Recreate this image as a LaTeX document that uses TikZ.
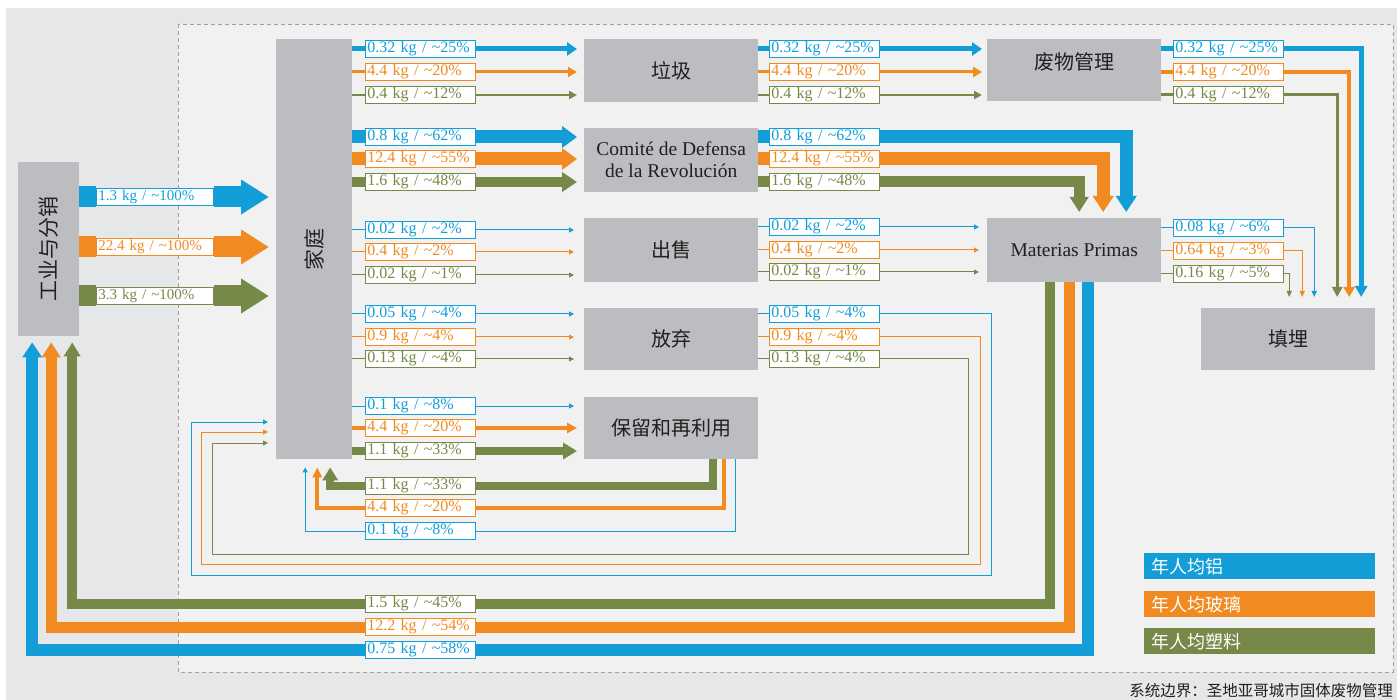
\documentclass[tikz,border=0pt]{standalone}
\usepackage{fontspec}
\setmainfont{Liberation Serif}
\newfontfamily\cjk{Noto Sans CJK SC}
\usetikzlibrary{arrows.meta}
\definecolor{cblue}{RGB}{19,158,216}
\definecolor{corange}{RGB}{241,138,33}
\definecolor{cgreen}{RGB}{118,137,72}
\definecolor{boxgray}{RGB}{188,189,192}
\definecolor{bgout}{RGB}{230,231,232}
\definecolor{bgin}{RGB}{241,241,241}
\definecolor{dashgray}{RGB}{160,160,160}
\definecolor{txt}{RGB}{35,31,32}
\newcommand{\kgl}[2]{\mbox{#1 kg / \textasciitilde#2\%}}
\begin{document}
\begin{tikzpicture}[x=1pt,y=-1pt,
  box/.style={fill=boxgray, inner sep=0pt, anchor=north west, text=txt},
  cjkttl/.style={text=txt, font=\cjk\fontsize{20}{22}\selectfont},
  latttl/.style={text=txt, font=\fontsize{19.5}{22}\selectfont, align=center},
  lbl/.style={draw=#1, fill=white, text=#1, line width=0.8pt, minimum height=17pt,
    text width=106pt, inner xsep=2pt, inner ysep=0pt, align=left,
    font=\fontsize{16}{16}\selectfont, anchor=west},
  lblb/.style={lbl=#1, text width=113pt, font=\fontsize{15}{15}\selectfont},
  fl/.style={draw=#1},
  ar/.style 2 args={-{Triangle[width=#1,length=#2]}},
  legbox/.style={fill=#1, minimum width=231pt, minimum height=26pt, anchor=north west,
    inner ysep=0pt, inner xsep=7pt, text width=217pt, align=left, text=white,
    font=\cjk\fontsize{18}{18}\selectfont}
]
\useasboundingbox (0,0) rectangle (1397,700);
\fill[white] (0,0) rectangle (1397,700);
\fill[bgout] (6,8) rectangle (1397,700);
\filldraw[fill=bgin, draw=dashgray, line width=0.8pt, dash pattern=on 4pt off 3pt] (178,24) rectangle (1393,672);

% ---------- boxes ----------
\node[box, minimum width=61pt, minimum height=174pt] (ind) at (18,162) {};
\node[cjkttl, rotate=90, font=\cjk\fontsize{21}{21}\selectfont] (indt) at (ind.center) {工业与分销};
\node[box, minimum width=76pt, minimum height=420pt] (home) at (276,39) {};
\node[cjkttl, rotate=90, font=\cjk\fontsize{21}{21}\selectfont] (homet) at (home.center) {家庭};
\node[box, cjkttl, minimum width=174pt, minimum height=63pt] (garb) at (584,39) {垃圾};
\node[box, latttl, minimum width=174pt, minimum height=64pt] (cdr) at (584,128) {Comité de Defensa\\de la Revolución};
\node[box, cjkttl, minimum width=174pt, minimum height=64pt] (sale) at (584,218) {出售};
\node[box, cjkttl, minimum width=174pt, minimum height=62pt] (aband) at (584,308) {放弃};
\node[box, cjkttl, minimum width=174pt, minimum height=62pt] (keep) at (584,397) {保留和再利用};
\node[box, minimum width=174pt, minimum height=62pt] (waste) at (987,39) {};
\node[cjkttl] (wastet) at ([yshift=8pt]waste.center) {废物管理};
\node[box, latttl, minimum width=174pt, minimum height=64pt] (mp) at (987,218) {Materias Primas};
\node[box, cjkttl, minimum width=174pt, minimum height=62pt] (land) at (1201,308) {填埋};

% ---------- industry -> household ----------
\node[lblb=cblue] (i1) at (96,197) {\kgl{1.3}{100}};
\node[lblb=corange] (i2) at (96,247) {\kgl{22.4}{100}};
\node[lblb=cgreen] (i3) at (96,296) {\kgl{3.3}{100}};
\draw[fl=cblue, line width=21pt] (ind.east |- i1) -- (i1.west);
\draw[fl=cblue, line width=21pt, ar={33pt}{28pt}, shorten >=7pt] (i1.east) -- (home.west |- i1);
\draw[fl=corange, line width=21pt] (ind.east |- i2) -- (i2.west);
\draw[fl=corange, line width=21pt, ar={33pt}{28pt}, shorten >=7pt] (i2.east) -- (home.west |- i2);
\draw[fl=cgreen, line width=21pt] (ind.east |- i3) -- (i3.west);
\draw[fl=cgreen, line width=21pt, ar={33pt}{28pt}, shorten >=7pt] (i3.east) -- (home.west |- i3);

% ---------- household -> garbage ----------
\node[lbl=cblue] (ga1) at (365,49) {\kgl{0.32}{25}};
\node[lbl=corange] (ga2) at (365,72) {\kgl{4.4}{20}};
\node[lbl=cgreen] (ga3) at (365,95) {\kgl{0.4}{12}};
\draw[fl=cblue, line width=5pt] (home.east |- ga1) -- (ga1.west);
\draw[fl=cblue, line width=5pt, ar={13pt}{10pt}, shorten >=7pt] (ga1.east) -- (garb.west |- ga1);
\draw[fl=corange, line width=3pt] (home.east |- ga2) -- (ga2.west);
\draw[fl=corange, line width=3pt, ar={10pt}{9pt}, shorten >=7pt] (ga2.east) -- (garb.west |- ga2);
\draw[fl=cgreen, line width=2pt] (home.east |- ga3) -- (ga3.west);
\draw[fl=cgreen, line width=2pt, ar={8pt}{8pt}, shorten >=7pt] (ga3.east) -- (garb.west |- ga3);

% ---------- household -> CDR ----------
\node[lbl=cblue] (ca1) at (365,137) {\kgl{0.8}{62}};
\node[lbl=corange] (ca2) at (365,159) {\kgl{12.4}{55}};
\node[lbl=cgreen] (ca3) at (365,182) {\kgl{1.6}{48}};
\draw[fl=cblue, line width=13pt] (home.east |- ca1) -- (ca1.west);
\draw[fl=cblue, line width=13pt, ar={21pt}{15pt}, shorten >=7pt] (ca1.east) -- (cdr.west |- ca1);
\draw[fl=corange, line width=13pt] (home.east |- ca2) -- (ca2.west);
\draw[fl=corange, line width=13pt, ar={21pt}{15pt}, shorten >=7pt] (ca2.east) -- (cdr.west |- ca2);
\draw[fl=cgreen, line width=10pt] (home.east |- ca3) -- (ca3.west);
\draw[fl=cgreen, line width=10pt, ar={19pt}{15pt}, shorten >=7pt] (ca3.east) -- (cdr.west |- ca3);

% ---------- household -> sale ----------
\node[lbl=cblue] (sa1) at (365,230) {\kgl{0.02}{2}};
\node[lbl=corange] (sa2) at (365,252) {\kgl{0.4}{2}};
\node[lbl=cgreen] (sa3) at (365,275) {\kgl{0.02}{1}};
\draw[fl=cblue, line width=1pt] (home.east |- sa1) -- (sa1.west);
\draw[fl=cblue, line width=1pt, ar={5pt}{5pt}, shorten >=10pt] (sa1.east) -- (sale.west |- sa1);
\draw[fl=corange, line width=1pt] (home.east |- sa2) -- (sa2.west);
\draw[fl=corange, line width=1pt, ar={5pt}{5pt}, shorten >=10pt] (sa2.east) -- (sale.west |- sa2);
\draw[fl=cgreen, line width=1pt] (home.east |- sa3) -- (sa3.west);
\draw[fl=cgreen, line width=1pt, ar={5pt}{5pt}, shorten >=10pt] (sa3.east) -- (sale.west |- sa3);

% ---------- household -> abandon ----------
\node[lbl=cblue] (aa1) at (365,314) {\kgl{0.05}{4}};
\node[lbl=corange] (aa2) at (365,337) {\kgl{0.9}{4}};
\node[lbl=cgreen] (aa3) at (365,359) {\kgl{0.13}{4}};
\draw[fl=cblue, line width=1pt] (home.east |- aa1) -- (aa1.west);
\draw[fl=cblue, line width=1pt, ar={5pt}{5pt}, shorten >=10pt] (aa1.east) -- (aband.west |- aa1);
\draw[fl=corange, line width=1pt] (home.east |- aa2) -- (aa2.west);
\draw[fl=corange, line width=1pt, ar={5pt}{5pt}, shorten >=10pt] (aa2.east) -- (aband.west |- aa2);
\draw[fl=cgreen, line width=1pt] (home.east |- aa3) -- (aa3.west);
\draw[fl=cgreen, line width=1pt, ar={5pt}{5pt}, shorten >=10pt] (aa3.east) -- (aband.west |- aa3);

% ---------- household -> keep ----------
\node[lbl=cblue] (ka1) at (365,406) {\kgl{0.1}{8}};
\node[lbl=corange] (ka2) at (365,428) {\kgl{4.4}{20}};
\node[lbl=cgreen] (ka3) at (365,451) {\kgl{1.1}{33}};
\draw[fl=cblue, line width=1pt] (home.east |- ka1) -- (ka1.west);
\draw[fl=cblue, line width=1pt, ar={5pt}{5pt}, shorten >=10pt] (ka1.east) -- (keep.west |- ka1);
\draw[fl=corange, line width=4pt] (home.east |- ka2) -- (ka2.west);
\draw[fl=corange, line width=4pt, ar={10pt}{10pt}, shorten >=7pt] (ka2.east) -- (keep.west |- ka2);
\draw[fl=cgreen, line width=8pt] (home.east |- ka3) -- (ka3.west);
\draw[fl=cgreen, line width=8pt, ar={16pt}{14pt}, shorten >=7pt] (ka3.east) -- (keep.west |- ka3);

% ---------- garbage -> waste management ----------
\node[lbl=cblue] (gb1) at (769,49) {\kgl{0.32}{25}};
\node[lbl=corange] (gb2) at (769,72) {\kgl{4.4}{20}};
\node[lbl=cgreen] (gb3) at (769,95) {\kgl{0.4}{12}};
\draw[fl=cblue, line width=5pt] (garb.east |- gb1) -- (gb1.west);
\draw[fl=cblue, line width=5pt, ar={13pt}{10pt}, shorten >=5pt] (gb1.east) -- (waste.west |- gb1);
\draw[fl=corange, line width=3pt] (garb.east |- gb2) -- (gb2.west);
\draw[fl=corange, line width=3pt, ar={10pt}{9pt}, shorten >=5pt] (gb2.east) -- (waste.west |- gb2);
\draw[fl=cgreen, line width=2pt] (garb.east |- gb3) -- (gb3.west);
\draw[fl=cgreen, line width=2pt, ar={8pt}{8pt}, shorten >=5pt] (gb3.east) -- (waste.west |- gb3);

% ---------- CDR -> Materias Primas ----------
\node[lbl=cblue] (cb1) at (769,137) {\kgl{0.8}{62}};
\node[lbl=corange] (cb2) at (769,159) {\kgl{12.4}{55}};
\node[lbl=cgreen] (cb3) at (769,182) {\kgl{1.6}{48}};
\draw[fl=cblue, line width=13pt] (cdr.east |- cb1) -- (cb1.west);
\draw[fl=cblue, line width=13pt, ar={20pt}{16pt}, shorten >=6pt] (cb1.east) -| ([xshift=52pt]mp.north);
\draw[fl=corange, line width=13pt] (cdr.east |- cb2) -- (cb2.west);
\draw[fl=corange, line width=13pt, ar={20pt}{16pt}, shorten >=6pt] (cb2.east) -| ([xshift=29pt]mp.north);
\draw[fl=cgreen, line width=11pt] (cdr.east |- cb3) -- (cb3.west);
\draw[fl=cgreen, line width=11pt, ar={18pt}{15pt}, shorten >=6pt] (cb3.east) -| ([xshift=5pt]mp.north);

% ---------- sale -> Materias Primas ----------
\node[lbl=cblue] (sb1) at (769,227) {\kgl{0.02}{2}};
\node[lbl=corange] (sb2) at (769,250) {\kgl{0.4}{2}};
\node[lbl=cgreen] (sb3) at (769,272) {\kgl{0.02}{1}};
\draw[fl=cblue, line width=1pt] (sale.east |- sb1) -- (sb1.west);
\draw[fl=cblue, line width=1pt, ar={5pt}{5pt}, shorten >=8pt] (sb1.east) -- (mp.west |- sb1);
\draw[fl=corange, line width=1pt] (sale.east |- sb2) -- (sb2.west);
\draw[fl=corange, line width=1pt, ar={5pt}{5pt}, shorten >=8pt] (sb2.east) -- (mp.west |- sb2);
\draw[fl=cgreen, line width=1pt] (sale.east |- sb3) -- (sb3.west);
\draw[fl=cgreen, line width=1pt, ar={5pt}{5pt}, shorten >=8pt] (sb3.east) -- (mp.west |- sb3);

% ---------- abandon -> household (return) ----------
\node[lbl=cblue] (ab1) at (769,314) {\kgl{0.05}{4}};
\node[lbl=corange] (ab2) at (769,337) {\kgl{0.9}{4}};
\node[lbl=cgreen] (ab3) at (769,359) {\kgl{0.13}{4}};
\coordinate (rb1) at (991,575); \coordinate (rb2) at (191,422);
\coordinate (ro1) at (980,564); \coordinate (ro2) at (201,432);
\coordinate (rg1) at (968,554); \coordinate (rg2) at (212,443);
\draw[fl=cblue, line width=1pt] (aband.east |- ab1) -- (ab1.west);
\draw[fl=cblue, line width=1pt, ar={5pt}{5pt}, shorten >=8pt] (ab1.east) -| (rb1) -| (rb2) -- (home.west |- rb2);
\draw[fl=corange, line width=1pt] (aband.east |- ab2) -- (ab2.west);
\draw[fl=corange, line width=1pt, ar={5pt}{5pt}, shorten >=8pt] (ab2.east) -| (ro1) -| (ro2) -- (home.west |- ro2);
\draw[fl=cgreen, line width=1pt] (aband.east |- ab3) -- (ab3.west);
\draw[fl=cgreen, line width=1pt, ar={5pt}{5pt}, shorten >=8pt] (ab3.east) -| (rg1) -| (rg2) -- (home.west |- rg2);

% ---------- keep -> household (return) ----------
\node[lbl=cgreen] (kb1) at (365,486) {\kgl{1.1}{33}};
\node[lbl=corange] (kb2) at (365,508) {\kgl{4.4}{20}};
\node[lbl=cblue] (kb3) at (365,531) {\kgl{0.1}{8}};
\draw[fl=cgreen, line width=8pt] ([xshift=42pt]keep.south) |- (kb1.east);
\draw[fl=cgreen, line width=8pt, ar={15pt}{13pt}, shorten >=8pt] (kb1.west) -| ([xshift=16pt]home.south);
\draw[fl=corange, line width=4pt] ([xshift=53pt]keep.south) |- (kb2.east);
\draw[fl=corange, line width=4pt, ar={9pt}{10pt}, shorten >=8pt] (kb2.west) -| ([xshift=3pt]home.south);
\draw[fl=cblue, line width=1pt] ([xshift=64pt]keep.south) |- (kb3.east);
\draw[fl=cblue, line width=1pt, ar={5pt}{5pt}, shorten >=8pt] (kb3.west) -| ([xshift=-9pt]home.south);

% ---------- waste management -> landfill ----------
\node[lbl=cblue] (wb1) at (1173,49) {\kgl{0.32}{25}};
\node[lbl=corange] (wb2) at (1173,72) {\kgl{4.4}{20}};
\node[lbl=cgreen] (wb3) at (1173,95) {\kgl{0.4}{12}};
\draw[fl=cblue, line width=5pt] (waste.east |- wb1) -- (wb1.west);
\draw[fl=cblue, line width=5pt, ar={12pt}{11pt}, shorten >=11pt] (wb1.east) -| ([xshift=73pt]land.north);
\draw[fl=corange, line width=4pt] (waste.east |- wb2) -- (wb2.west);
\draw[fl=corange, line width=4pt, ar={11pt}{10pt}, shorten >=11pt] (wb2.east) -| ([xshift=61pt]land.north);
\draw[fl=cgreen, line width=3pt] (waste.east |- wb3) -- (wb3.west);
\draw[fl=cgreen, line width=3pt, ar={10pt}{10pt}, shorten >=11pt] (wb3.east) -| ([xshift=49pt]land.north);

% ---------- Materias Primas -> landfill ----------
\node[lbl=cblue] (mb1) at (1173,228) {\kgl{0.08}{6}};
\node[lbl=corange] (mb2) at (1173,251) {\kgl{0.64}{3}};
\node[lbl=cgreen] (mb3) at (1173,274) {\kgl{0.16}{5}};
\draw[fl=cblue, line width=1pt] (mp.east |- mb1) -- (mb1.west);
\draw[fl=cblue, line width=1pt, ar={5pt}{6pt}, shorten >=11pt] (mb1.east) -| ([xshift=26pt]land.north);
\draw[fl=corange, line width=1pt] (mp.east |- mb2) -- (mb2.west);
\draw[fl=corange, line width=1pt, ar={5pt}{6pt}, shorten >=11pt] (mb2.east) -| ([xshift=14pt]land.north);
\draw[fl=cgreen, line width=1pt] (mp.east |- mb3) -- (mb3.west);
\draw[fl=cgreen, line width=1pt, ar={5pt}{6pt}, shorten >=11pt] (mb3.east) -| ([xshift=1pt]land.north);

% ---------- Materias Primas -> industry ----------
\node[lbl=cgreen] (pb1) at (365,604) {\kgl{1.5}{45}};
\node[lbl=corange] (pb2) at (365,627) {\kgl{12.2}{54}};
\node[lbl=cblue] (pb3) at (365,650) {\kgl{0.75}{58}};
\draw[fl=cgreen, line width=10pt] ([xshift=-24pt]mp.south) |- (pb1.east);
\draw[fl=cgreen, line width=10pt, ar={16pt}{14pt}, shorten >=6pt] (pb1.west) -| ([xshift=23.5pt]ind.south);
\draw[fl=corange, line width=11pt] ([xshift=-5pt]mp.south) |- (pb2.east);
\draw[fl=corange, line width=11pt, ar={18pt}{15pt}, shorten >=6pt] (pb2.west) -| ([xshift=2.5pt]ind.south);
\draw[fl=cblue, line width=12pt] ([xshift=14pt]mp.south) |- (pb3.east);
\draw[fl=cblue, line width=12pt, ar={19pt}{15pt}, shorten >=6pt] (pb3.west) -| ([xshift=-16.5pt]ind.south);

% ---------- legend & source ----------
\node[legbox=cblue] (legb) at (1144,553) {年人均铝};
\node[legbox=corange] (lego) at (1144,591) {年人均玻璃};
\node[legbox=cgreen] (legg) at (1144,628) {年人均塑料};
\node[anchor=base east, text=txt, font=\cjk\fontsize{15.5}{15.5}\selectfont, inner sep=0pt] (src) at (1393,696) {系统边界：圣地亚哥城市固体废物管理};
\end{tikzpicture}
\end{document}
